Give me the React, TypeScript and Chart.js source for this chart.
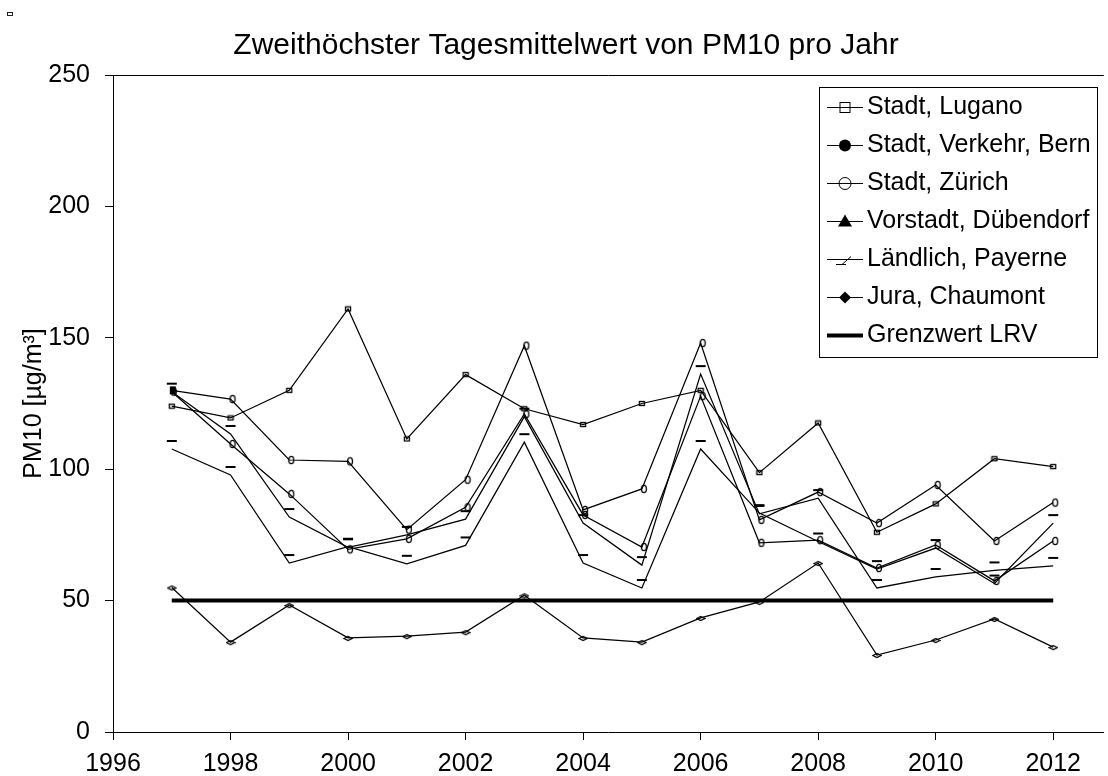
import React, { useEffect, useRef } from 'react';
import { Chart, registerables } from 'chart.js';

Chart.register(...registerables);

const years = [1997, 1998, 1999, 2000, 2001, 2002, 2003, 2004, 2005, 2006, 2007, 2008, 2009, 2010, 2011, 2012];
const lugano = [124, 119.5, 130, 161, 111.5, 136, 123, 117, 125, 130, 98.7, 117.6, 76, 86.8, 104, 101];
const bern = [130, 126.7, 103.5, 103, 77, 96, 147, 84.5, 92.5, 148, 80.7, 91.3, 79.5, 94, 72.7, 87.3];
const zuerich = [129.5, 109.6, 90.6, 69.5, 73.5, 85.5, 121, 82.6, 70.4, 127.8, 72, 73, 62.4, 71.2, 57.5, 72.7];
const duebendorf = [129.5, 113.4, 81.8, 70.3, 75, 81, 120, 79.5, 63.5, 136.2, 83, 89, 54.8, 59, 61.5, 63.2];
const payerne = [107.7, 97.8, 64.3, 70.5, 64, 71, 110.3, 64.3, 54.8, 107.7, 83.3, 72.5, 62, 70, 56.5, 79.5];
const chaumont = [55, 34.2, 48.3, 35.8, 36.5, 38, 52, 35.8, 34.2, 43.4, 49.5, 64.3, 29.3, 35, 43, 32.3];
const limitYears = [1997, 2012];
const limitValues = [50, 50];

const xTicks = [1996, 1998, 2000, 2002, 2004, 2006, 2008, 2010, 2012];
const xMin = 1996;
const xMax = 2012.86;
const yMin = 0;
const yMax = 250;
const yStep = 50;

const seriesLabels = [
  'Stadt, Lugano',
  'Stadt, Verkehr, Bern',
  'Stadt, Zürich',
  'Vorstadt, Dübendorf',
  'Ländlich, Payerne',
  'Jura, Chaumont',
  'Grenzwert LRV',
];
const titleText = 'Zweithöchster Tagesmittelwert von PM10 pro Jahr';
const yTitleText = 'PM10 [µg/m³]';

const FONT = "'Liberation Sans', Arial, Helvetica, sans-serif";

function makeCanvas(w: number, h: number, draw: (g: CanvasRenderingContext2D) => void) {
  const c = document.createElement('canvas');
  c.width = w;
  c.height = h;
  const g = c.getContext('2d') as CanvasRenderingContext2D;
  g.strokeStyle = '#000';
  g.fillStyle = '#000';
  g.lineWidth = 1.3;
  draw(g);
  return c;
}

const toPoints = (xs: number[], ys: number[]) => xs.map((x, i) => ({ x, y: ys[i] }));

const legendPlugin = {
  id: 'boxLegend',
  afterDraw(chart: any) {
    const ctx: CanvasRenderingContext2D = chart.ctx;
    const { left, right, top } = chart.chartArea;
    ctx.save();
    // top frame line of the plot area
    ctx.strokeStyle = '#000';
    ctx.lineWidth = 1;
    ctx.beginPath();
    ctx.moveTo(left, Math.round(top) + 0.5);
    ctx.lineTo(right, Math.round(top) + 0.5);
    ctx.stroke();

    // title
    ctx.fillStyle = '#000';
    ctx.font = `30px ${FONT}`;
    ctx.textAlign = 'center';
    ctx.textBaseline = 'middle';
    ctx.fillText(titleText, 566, 46);

    // legend box
    const bx = 819.5, by = 87.5, bw = 278, bh = 270;
    ctx.fillStyle = '#fff';
    ctx.fillRect(bx, by, bw, bh);
    ctx.strokeStyle = '#000';
    ctx.lineWidth = 1;
    ctx.strokeRect(bx, by, bw, bh);

    const rowStart = 107;
    const rowGap = 38;
    const lx0 = 827, lx1 = 863, cx = 845, tx = 867;
    ctx.font = `25px ${FONT}`;
    ctx.textAlign = 'left';
    ctx.textBaseline = 'middle';
    seriesLabels.forEach((label, i) => {
      const cy = Math.round(rowStart + i * rowGap) + 0.5;
      ctx.strokeStyle = '#000';
      ctx.fillStyle = '#000';
      ctx.lineWidth = i === 6 ? 4 : 1;
      ctx.beginPath();
      ctx.moveTo(lx0, cy);
      ctx.lineTo(lx1, cy);
      ctx.stroke();
      ctx.lineWidth = 1;
      ctx.beginPath();
      if (i === 0) {
        ctx.strokeRect(cx - 5, cy - 5, 10, 10);
      } else if (i === 1) {
        ctx.arc(cx, cy, 6, 0, Math.PI * 2);
        ctx.fill();
      } else if (i === 2) {
        ctx.arc(cx, cy, 6, 0, Math.PI * 2);
        ctx.stroke();
      } else if (i === 3) {
        ctx.moveTo(cx, cy - 7);
        ctx.lineTo(cx + 7, cy + 5);
        ctx.lineTo(cx - 7, cy + 5);
        ctx.closePath();
        ctx.fill();
      } else if (i === 4) {
        ctx.moveTo(cx - 9, cy + 5);
        ctx.lineTo(cx + 1, cy + 5);
        ctx.moveTo(cx - 3, cy + 5);
        ctx.lineTo(cx + 6, cy - 3);
        ctx.stroke();
      } else if (i === 5) {
        ctx.moveTo(cx, cy - 6);
        ctx.lineTo(cx + 6, cy);
        ctx.lineTo(cx, cy + 6);
        ctx.lineTo(cx - 6, cy);
        ctx.closePath();
        ctx.fill();
      }
      ctx.fillStyle = '#000';
      ctx.fillText(label, tx, cy);
    });
    ctx.restore();
  },
};

export default function App() {
  const ref = useRef<HTMLCanvasElement | null>(null);

  useEffect(() => {
    const canvas = ref.current;
    if (!canvas) return;

    const squareMark = makeCanvas(8, 7, (g) => g.strokeRect(1.5, 1.5, 5, 4));
    const ovalMark = makeCanvas(12, 12, (g) => {
      g.beginPath();
      g.ellipse(8, 6, 2.5, 3.6, 0, 0, Math.PI * 2);
      g.stroke();
    });
    const filledMark = makeCanvas(12, 12, (g) => g.fillRect(4, 2, 6, 8));
    const dashMark = makeCanvas(12, 20, (g) => g.fillRect(1, 1, 10, 2));
    const diamondMark = makeCanvas(10, 8, (g) => {
      g.beginPath();
      g.moveTo(1, 4.5);
      g.lineTo(5, 2.5);
      g.lineTo(9, 4.5);
      g.lineTo(5, 6.5);
      g.closePath();
      g.stroke();
    });

    const base = {
      borderColor: '#000',
      backgroundColor: '#000',
      borderWidth: 1.25,
      tension: 0,
      fill: false,
      pointRadius: 3,
      pointHoverRadius: 3,
    };

    const chart = new Chart(canvas, {
      type: 'line',
      data: {
        datasets: [
          { ...base, label: seriesLabels[0], data: toPoints(years, lugano), pointStyle: squareMark },
          {
            ...base,
            label: seriesLabels[1],
            data: toPoints(years, bern),
            pointStyle: (c: any) => (c.dataIndex === 0 ? filledMark : ovalMark),
          },
          { ...base, label: seriesLabels[2], data: toPoints(years, zuerich), pointStyle: ovalMark },
          { ...base, label: seriesLabels[3], data: toPoints(years, duebendorf), pointStyle: dashMark },
          { ...base, label: seriesLabels[4], data: toPoints(years, payerne), pointStyle: dashMark },
          { ...base, label: seriesLabels[5], data: toPoints(years, chaumont), pointStyle: diamondMark },
          {
            ...base,
            label: seriesLabels[6],
            data: toPoints(limitYears, limitValues),
            borderWidth: 4,
            pointRadius: 0,
            borderCapStyle: 'butt',
          },
        ] as any,
      },
      options: {
        responsive: false,
        animation: false,
        events: [],
        layout: { padding: { top: 75, right: 0, left: 0, bottom: 0 } },
        plugins: {
          legend: { display: false },
          tooltip: { enabled: false },
          title: { display: false },
        },
        scales: {
          x: {
            type: 'linear',
            min: xMin,
            max: xMax,
            afterBuildTicks: (axis: any) => {
              axis.ticks = xTicks.map((v) => ({ value: v }));
            },
            afterFit: (s: any) => {
              s.height = 44;
            },
            grid: { drawOnChartArea: false, drawTicks: true, tickLength: 8, color: '#000', lineWidth: 1 },
            border: { display: true, color: '#000', width: 1 },
            ticks: {
              color: '#000',
              font: { family: FONT, size: 25 },
              padding: 9,
              maxRotation: 0,
              autoSkip: false,
              callback: (v: any) => String(v),
            },
          },
          y: {
            min: yMin,
            max: yMax,
            afterFit: (s: any) => {
              s.width = 113;
            },
            grid: { drawOnChartArea: false, drawTicks: true, tickLength: 8, color: '#000', lineWidth: 1 },
            border: { display: true, color: '#000', width: 1 },
            ticks: {
              stepSize: yStep,
              color: '#000',
              font: { family: FONT, size: 25 },
              padding: 15,
              callback: (v: any) => String(v),
            },
            title: {
              display: true,
              text: yTitleText,
              color: '#000',
              font: { family: FONT, size: 25 },
              padding: { top: 19, bottom: 0 },
            },
          },
        },
      } as any,
      plugins: [legendPlugin],
    });

    return () => {
      chart.destroy();
    };
  }, []);

  return (
    <div style={{ position: 'fixed', left: 0, top: 0, width: 1108, height: 776, background: '#fff', overflow: 'hidden' }}>
      <canvas ref={ref} width={1108} height={776} style={{ width: 1108, height: 776, display: 'block' }} />
      <div
        style={{
          position: 'absolute',
          left: 7,
          top: 12,
          width: 4,
          height: 2,
          border: '1px solid #222',
        }}
      />
    </div>
  );
}
